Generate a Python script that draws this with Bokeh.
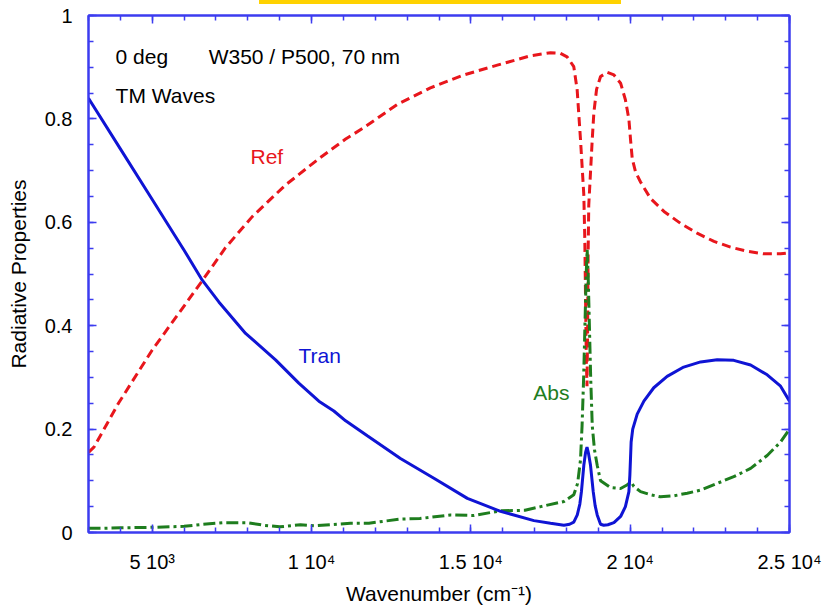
from bokeh.plotting import figure
from bokeh.models import Label, LinearAxis, FixedTicker, Range1d, Div, CustomJSTickFormatter
from bokeh.layouts import column
from bokeh.embed import file_html
from bokeh.resources import INLINE

# ---- data ----
ref_x = [3000, 3170, 3950, 5000, 6045, 6570, 7300, 8140, 9180, 10230, 10600, 11070,
         11640, 12690, 13730, 14780, 15830, 16870, 17500, 17800, 18020, 18230, 18335,
         18440, 18545, 18575, 18600, 18625, 18645, 18665, 18680, 18700, 18755, 18810,
         18860, 18945, 19070, 19280, 19490, 19700, 19850, 19960, 20010, 20065, 20170,
         20325, 20640, 21060, 21580, 22100, 22630, 23150, 23670, 24190, 24720, 25000]
ref_y = [0.155, 0.165, 0.251, 0.353, 0.442, 0.487, 0.551, 0.611, 0.672, 0.723, 0.740, 0.761,
         0.783, 0.828, 0.860, 0.885, 0.904, 0.922, 0.928, 0.927, 0.920, 0.901, 0.857,
         0.761, 0.653, 0.570, 0.450, 0.330, 0.283, 0.400, 0.538, 0.633, 0.697, 0.761,
         0.812, 0.857, 0.882, 0.890, 0.885, 0.869, 0.837, 0.799, 0.761, 0.723, 0.697,
         0.678, 0.646, 0.621, 0.598, 0.579, 0.563, 0.552, 0.544, 0.539, 0.539, 0.541]

tran_x = [3000, 4000, 5000, 6000, 6570, 7090, 7930, 8870, 9600, 10230, 10700, 11070,
          11750, 12790, 13840, 14890, 15930, 16980, 17500, 17920, 18100, 18230, 18340,
          18420, 18470, 18545, 18600, 18645, 18695, 18755, 18840, 18900, 18965, 19070,
          19170, 19300, 19490, 19700, 19850, 19960, 19990, 20010, 20030, 20080, 20220,
          20430, 20740, 21160, 21680, 22210, 22730, 23250, 23780, 24300, 24720, 25000]
tran_y = [0.840, 0.742, 0.644, 0.546, 0.488, 0.446, 0.385, 0.334, 0.289, 0.254, 0.235, 0.216,
          0.187, 0.143, 0.105, 0.066, 0.041, 0.023, 0.018, 0.014, 0.016, 0.020, 0.034,
          0.055, 0.079, 0.130, 0.155, 0.165, 0.152, 0.130, 0.079, 0.052, 0.034, 0.016,
          0.014, 0.015, 0.019, 0.031, 0.050, 0.079, 0.111, 0.143, 0.175, 0.200, 0.229,
          0.254, 0.280, 0.302, 0.320, 0.330, 0.334, 0.333, 0.324, 0.305, 0.283, 0.254]

abs_x = [3000, 3400, 4000, 5000, 6000, 6600, 7200, 8000, 8500, 9000, 9650, 10100,
         11220, 11800, 12790, 13400, 14360, 15100, 15930, 16700, 17190, 17920, 18230,
         18350, 18440, 18490, 18540, 18580, 18620, 18650, 18680, 18720, 18760, 18810,
         18880, 18965, 19070, 19380, 19700, 19900, 20030, 20115, 20325, 20640, 20950,
         21370, 21790, 22210, 22730, 23250, 23780, 24300, 24720, 25000]
abs_y = [0.008, 0.008, 0.009, 0.010, 0.012, 0.016, 0.019, 0.019, 0.014, 0.011, 0.015, 0.013,
         0.018, 0.018, 0.026, 0.027, 0.034, 0.033, 0.042, 0.043, 0.050, 0.060, 0.073,
         0.095, 0.140, 0.206, 0.300, 0.400, 0.500, 0.547, 0.500, 0.400, 0.300, 0.206,
         0.160, 0.130, 0.100, 0.087, 0.085, 0.092, 0.098, 0.089, 0.079, 0.073, 0.069,
         0.071, 0.076, 0.082, 0.095, 0.108, 0.124, 0.149, 0.175, 0.200]

x_ticks = [5000, 10000, 15000, 20000, 25000]
x_tick_labels = ["5 10\u00b3", "1 10\u2074", "1.5 10\u2074", "2 10\u2074", "2.5 10\u2074"]
x_minor = list(range(3000, 25001, 1000))
y_ticks = [0, 0.2, 0.4, 0.6, 0.8, 1.0]
y_tick_labels = ["0", "0.2", "0.4", "0.6", "0.8", "1"]
y_minor = [i * 0.05 for i in range(21)]

FONT = "Liberation Sans"
RED = "#e8161c"
BLUE = "#0f14d4"
GREEN = "#1e7d1e"
FRAME = "#3c3cf0"
YELLOW = "#ffd200"

p = figure(width=824, height=603, output_backend="svg", toolbar_location=None,
           x_range=Range1d(3000, 25000), y_range=Range1d(0, 1),
           min_border_left=88, min_border_right=35, min_border_top=11, min_border_bottom=69,
           background_fill_color="white", border_fill_color="white")
p.grid.visible = False
p.outline_line_color = FRAME
p.outline_line_width = 2


def style_axis(ax):
    ax.axis_line_color = FRAME
    ax.axis_line_width = 2
    ax.major_tick_line_color = FRAME
    ax.minor_tick_line_color = FRAME
    ax.major_tick_line_width = 1.5
    ax.minor_tick_line_width = 1.5
    ax.major_tick_in = 8
    ax.major_tick_out = 0
    ax.minor_tick_in = 5
    ax.minor_tick_out = 0
    ax.major_label_text_font = FONT
    ax.major_label_text_font_size = "20px"
    ax.major_label_text_color = "black"
    ax.axis_label_text_font = FONT
    ax.axis_label_text_font_size = "21px"
    ax.axis_label_text_font_style = "normal"
    ax.axis_label_text_color = "black"


xa = p.xaxis[0]
xa.ticker = FixedTicker(ticks=x_ticks, minor_ticks=x_minor)
xa.major_label_overrides = dict(zip(x_ticks, x_tick_labels))
xa.axis_label = "Wavenumber (cm\u207b\u00b9)"
style_axis(xa)
xa.major_label_standoff = 18
xa.axis_label_standoff = 6

ya = p.yaxis[0]
ya.ticker = FixedTicker(ticks=y_ticks, minor_ticks=y_minor)
ya.major_label_overrides = dict(zip(y_ticks, y_tick_labels))
ya.axis_label = "Radiative Properties"
style_axis(ya)
ya.major_label_standoff = 16
ya.axis_label_standoff = 12

blank = CustomJSTickFormatter(code="return '';")
top = LinearAxis(ticker=FixedTicker(ticks=x_ticks, minor_ticks=x_minor), formatter=blank)
style_axis(top)
top.major_label_standoff = 0
p.add_layout(top, "above")
right = LinearAxis(ticker=FixedTicker(ticks=y_ticks, minor_ticks=y_minor), formatter=blank)
style_axis(right)
right.major_label_standoff = 0
p.add_layout(right, "right")

p.line(ref_x, ref_y, line_color=RED, line_width=3, line_dash="9 5")
p.line(abs_x, abs_y, line_color=GREEN, line_width=3, line_dash="12 4 3 4")
p.line(tran_x, tran_y, line_color=BLUE, line_width=3)

for txt, x, y, c in [("0 deg", 3850, 0.92, "black"),
                     ("W350 / P500, 70 nm", 6770, 0.92, "black"),
                     ("TM Waves", 3850, 0.845, "black"),
                     ("Ref", 8085, 0.728, RED),
                     ("Tran", 9590, 0.342, BLUE),
                     ("Abs", 16960, 0.27, GREEN)]:
    p.add_layout(Label(x=x, y=y, text=txt, text_font=FONT, text_font_size="21px",
                       text_color=c, text_baseline="alphabetic"))

bar = Div(text="", width=362, height=4, margin=(0, 0, 0, 259),
          styles={"background-color": YELLOW})

layout = column(bar, p, spacing=0)
open("out.html", "w").write(file_html(layout, INLINE))
